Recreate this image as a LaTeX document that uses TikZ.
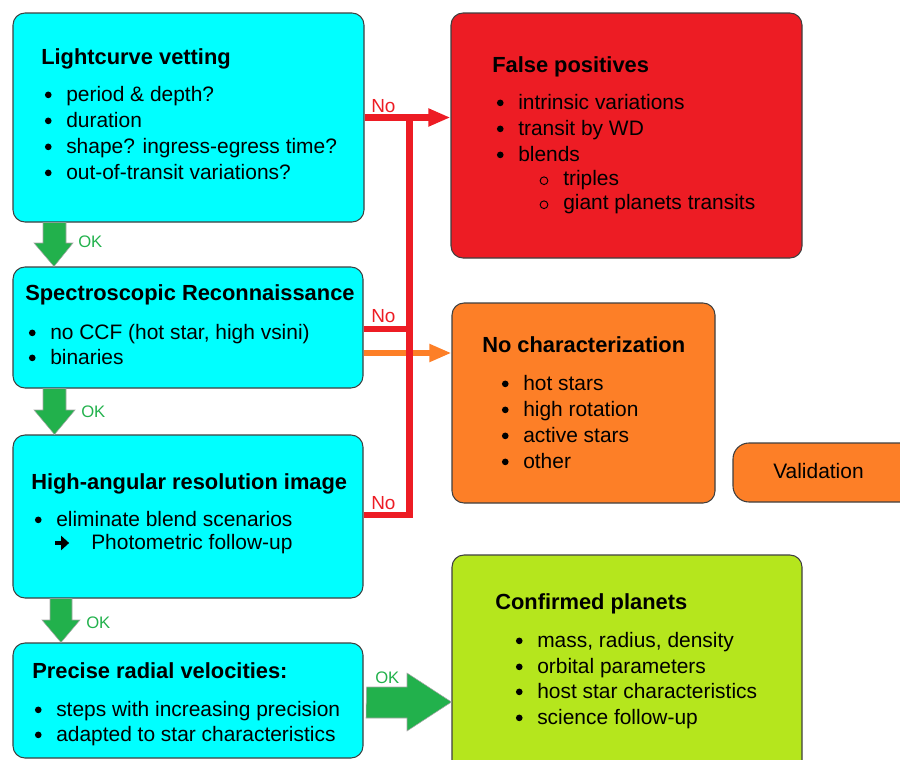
\documentclass[tikz,border=0pt]{standalone}
\usepackage{fontspec}
\setmainfont{Liberation Sans}
\usetikzlibrary{arrows.meta}

\definecolor{boxcyan}{HTML}{00FFFF}
\definecolor{fpred}{HTML}{ED1C24}
\definecolor{ncorange}{HTML}{FD7F27}
\definecolor{cplime}{HTML}{B5E61D}
\definecolor{okgreen}{HTML}{22B14C}
\definecolor{edgegray}{HTML}{3F3F3F}

% list markers, set to the left of an item's text
\newcommand\dotmark{\tikz[baseline=0pt]{\fill (2.5pt,4.6pt) circle (2.5pt);
  \useasboundingbox (0,0) rectangle (5pt,1pt);}}
\newcommand\ringmark{\tikz[baseline=0pt]{\draw[line width=0.7pt] (3pt,3.2pt) circle (2.9pt);
  \useasboundingbox (0,0) rectangle (6pt,1pt);}}
\newcommand\arrowmark{\tikz[baseline=0pt]{\draw[line width=2.8pt,
  -{Triangle[length=6pt,width=10.5pt]}] (0,4.5pt) -- (10.5pt,4.5pt);
  \useasboundingbox (0,0) rectangle (10.5pt,1pt);}}
\newcommand\bul{\llap{\dotmark\hspace{11pt}}}
\newcommand\subbul{\llap{\ringmark\hspace{11.2pt}}}
\newcommand\follow{\llap{\arrowmark\hspace{15.2pt}}}

\tikzset{
  box/.style={draw=edgegray, line width=0.8pt, rounded corners=9pt, inner sep=0pt},
  ttl/.style={anchor=base west, inner sep=0pt, font=\fontsize{16.4}{19.5}\selectfont\bfseries},
  itm/.style={anchor=base west, inner sep=0pt, font=\fontsize{15.7}{19.5}\selectfont},
  nolab/.style={anchor=base west, inner sep=0pt, text=fpred, font=\fontsize{14.2}{16}\selectfont},
  oklab/.style={anchor=west, inner sep=0pt, text=okgreen, font=\fontsize{12.5}{14}\selectfont},
  redline/.style={draw=fpred, line width=5pt},
  orangeline/.style={draw=ncorange, line width=5pt},
  tip/.style={-{Triangle[length=16.5pt,width=12.5pt]}},
  okfill/.style={fill=okgreen, draw=gray!70, line width=0.4pt},
}

\begin{document}
\begin{tikzpicture}[x=0.75pt, y=-0.75pt]
\useasboundingbox (0,0) rectangle (900,760);
\clip (0,0) rectangle (900,760);

% ---- boxes ----
\node[box, fill=boxcyan, minimum width=263.25pt, minimum height=156.75pt] (lc) at (188.5,117.5) {};
\node[box, fill=boxcyan, minimum width=262.5pt, minimum height=90.75pt] (sr) at (188,327.5) {};
\node[box, fill=boxcyan, minimum width=262.5pt, minimum height=122.25pt] (hr) at (188,516.5) {};
\node[box, fill=boxcyan, minimum width=262.5pt, minimum height=86.25pt] (pr) at (188,700.5) {};
\node[box, fill=fpred, minimum width=263.25pt, minimum height=183.75pt] (fp) at (626.5,135.5) {};
\node[box, fill=ncorange, minimum width=197.25pt, minimum height=150pt] (nc) at (583.5,403) {};
\node[box, fill=ncorange, rounded corners=12pt, minimum width=140.25pt, minimum height=44.25pt] (va) at (826.5,472.5) {};
\node[box, fill=cplime, minimum width=262.5pt, minimum height=168.75pt] (cp) at (627,667.5) {};

% ---- texts: lightcurve vetting ----
\node[ttl] (lct) at (41,64) {Lightcurve vetting};
\node[itm] (lc1) at (66,101) {\bul period \& depth?};
\node[itm] (lc2) at (66,127) {\bul duration};
\node[itm] (lc3) at (66,153) {\bul shape? ingress-egress time?};
\node[itm] (lc4) at (66,179) {\bul out-of-transit variations?};

% ---- spectroscopic reconnaissance ----
\node[ttl] (srt) at (25,300) {Spectroscopic Reconnaissance};
\node[itm] (sr1) at (50,339) {\bul no CCF (hot star, high vsini)};
\node[itm] (sr2) at (50,364) {\bul binaries};

% ---- high-angular resolution ----
\node[ttl] (hrt) at (31,489) {High-angular resolution image};
\node[itm] (hr1) at (56,526) {\bul eliminate blend scenarios};
\node[itm] (hr2) at (91,549) {\follow Photometric follow-up};

% ---- radial velocities ----
\node[ttl] (prt) at (32,678) {Precise radial velocities:};
\node[itm] (pr1) at (56,716) {\bul steps with increasing precision};
\node[itm] (pr2) at (56,741) {\bul adapted to star characteristics};

% ---- false positives ----
\node[ttl] (fpt) at (492,72) {False positives};
\node[itm] (fp1) at (518,109) {\bul intrinsic variations};
\node[itm] (fp2) at (518,135) {\bul transit by WD};
\node[itm] (fp3) at (518,161) {\bul blends};
\node[itm] (fp4) at (563,185) {\subbul triples};
\node[itm] (fp5) at (563,209) {\subbul giant planets transits};

% ---- no characterization ----
\node[ttl] (nct) at (482,352) {No characterization};
\node[itm] (nc1) at (523,390) {\bul hot stars};
\node[itm] (nc2) at (523,416) {\bul high rotation};
\node[itm] (nc3) at (523,442) {\bul active stars};
\node[itm] (nc4) at (523,468) {\bul other};

% ---- validation ----
\node[itm] (vat) at (773,478) {Validation};

% ---- confirmed planets ----
\node[ttl] (cpt) at (495,609) {Confirmed planets};
\node[itm] (cp1) at (537,647) {\bul mass, radius, density};
\node[itm] (cp2) at (537,673) {\bul orbital parameters};
\node[itm] (cp3) at (537,698) {\bul host star characteristics};
\node[itm] (cp4) at (537,724) {\bul science follow-up};

% ---- OK arrows down the pipeline ----
\fill[okfill] (43,0 |- lc.south) -- (43,243) -- (34,243) -- (54,0 |- sr.north)
  -- (73,243) -- (66,243) -- (66,0 |- lc.south) -- cycle;
\fill[okfill] (43,0 |- sr.south) -- (43,410) -- (34,410) -- (54.5,0 |- hr.north)
  -- (75,410) -- (66,410) -- (66,0 |- sr.south) -- cycle;
\fill[okfill] (50,0 |- hr.south) -- (50,620) -- (42,620) -- (61,0 |- pr.north)
  -- (80,620) -- (72,620) -- (72,0 |- hr.south) -- cycle;
\fill[okfill] (pr.east |- 0,687) ++(3,0) -- (407,687) -- (407,673) -- (cp.west |- 0,702)
  -- (407,731) -- (407,718) -- (366,718) -- cycle;

\node[oklab] (ok1) at (78,242) {OK};
\node[oklab] (ok2) at (81,412) {OK};
\node[oklab] (ok3) at (86,623) {OK};
\node[oklab] (ok4) at (375,678) {OK};

% ---- rejection paths ----
\coordinate (bustop) at (409.5,117.5);
\coordinate (busbot) at (409.5,515);
\draw[orangeline, tip] (sr.east |- 0,353) -- (nc.west |- 0,353);
\draw[redline, tip] (lc.east |- bustop) -- (fp.west |- bustop);
\draw[redline, line join=miter] (bustop) -- (busbot) -- (hr.east |- busbot);
\draw[redline] (sr.east |- 0,329) -- (bustop |- 0,329);

\node[nolab] (no1) at (371,112) {No};
\node[nolab] (no2) at (371,322) {No};
\node[nolab] (no3) at (371,509) {No};
\end{tikzpicture}
\end{document}
